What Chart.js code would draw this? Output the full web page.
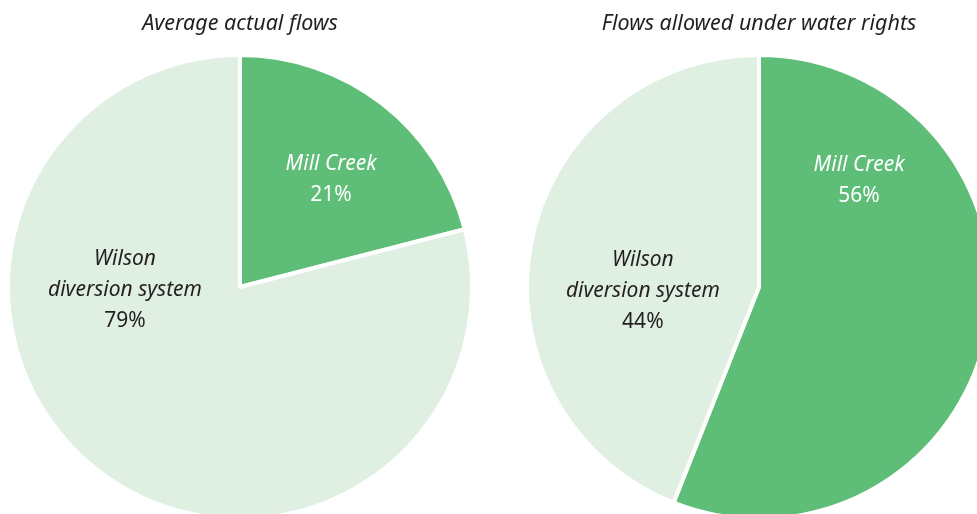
<!DOCTYPE html>
<html>
<head>
<meta charset="utf-8">
<script src="https://cdn.jsdelivr.net/npm/chart.js@4/dist/chart.umd.min.js"></script>
<style>
  html, body { margin: 0; padding: 0; width: 977px; height: 514px; overflow: hidden; background: #ffffff; }
  .box { position: absolute; top: 0; width: 460px; height: 517px; }
  #boxL { left: 10px; }
  #boxR { left: 529px; }
</style>
</head>
<body>
<div class="box" id="boxL"><canvas id="pieL"></canvas></div>
<div class="box" id="boxR"><canvas id="pieR"></canvas></div>
<script>
// ---- data ----
const categories = ['Mill Creek', 'Wilson\ndiversion system'];
const actualFlowsPct = [21, 79];
const waterRightsPct = [56, 44];
const chartTitles = ['Average actual flows', 'Flows allowed under water rights'];

// ---- styling ----
const sliceColors = ['#5ebe78', '#dfefe1'];
const labelColors = ['#ffffff', '#231f20'];
const FONT = "'Noto Sans', 'Open Sans', sans-serif";

// label block centres, in units of the pie radius relative to the pie centre
const labelPlacementL = [[0.396, -0.466], [-0.50, 0.015]];
const labelPlacementR = [[0.435, -0.463], [-0.505, 0.017]];

const pieLabels = {
  id: 'pieLabels',
  afterDatasetsDraw(chart, args, opts) {
    const ctx = chart.ctx;
    const meta = chart.getDatasetMeta(0);
    const values = chart.data.datasets[0].data;
    const first = meta.data[0];
    const cx = first.x, cy = first.y, r = 230;
    ctx.save();
    ctx.textAlign = 'center';
    ctx.textBaseline = 'middle';
    chart.data.labels.forEach((lab, i) => {
      const lines = lab.split('\n');
      const all = lines.map(t => ({ t, italic: true })).concat([{ t: values[i] + '%', italic: false }]);
      const [fx, fy] = opts.placement[i];
      const x = cx + fx * r;
      const yc = cy + fy * r;
      const lh = 31;
      ctx.fillStyle = labelColors[i];
      all.forEach((ln, k) => {
        ctx.font = (ln.italic ? 'italic ' : '') + '21px ' + FONT;
        ctx.fillText(ln.t, x, yc + (k - (all.length - 1) / 2) * lh);
      });
    });
    ctx.restore();
  }
};

function makePie(id, values, title, placement) {
  return new Chart(document.getElementById(id), {
    type: 'pie',
    data: {
      labels: categories,
      datasets: [{
        data: values,
        backgroundColor: sliceColors,
        borderColor: '#ffffff',
        borderWidth: 4,
        hoverOffset: 0
      }]
    },
    options: {
      responsive: true,
      maintainAspectRatio: false,
      animation: false,
      radius: 232,
      layout: { padding: 0 },
      events: [],
      plugins: {
        legend: { display: false },
        tooltip: { enabled: false },
        title: {
          display: true,
          text: title,
          color: '#231f20',
          font: { family: FONT, size: 21.5, style: 'italic', weight: 'normal' },
          padding: { top: 10.5, bottom: 20.7 }
        },
        pieLabels: { placement }
      }
    },
    plugins: [pieLabels]
  });
}

makePie('pieL', actualFlowsPct, chartTitles[0], labelPlacementL);
makePie('pieR', waterRightsPct, chartTitles[1], labelPlacementR);
</script>
</body>
</html>
